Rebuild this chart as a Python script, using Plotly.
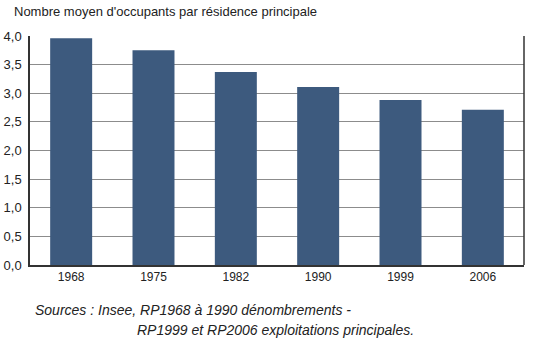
import plotly.graph_objects as go

years = ["1968", "1975", "1982", "1990", "1999", "2006"]
occupants = [3.96, 3.75, 3.37, 3.11, 2.88, 2.71]
y_ticks = [0, 0.5, 1.0, 1.5, 2.0, 2.5, 3.0, 3.5, 4.0]
y_tick_labels = ["0,0", "0,5", "1,0", "1,5", "2,0", "2,5", "3,0", "3,5", "4,0"]

title_text = "Nombre moyen d'occupants par résidence principale"
source_line1 = "Sources : Insee, RP1968 à 1990 dénombrements -"
source_line2 = "RP1999 et RP2006 exploitations principales."

fig = go.Figure()
fig.add_trace(go.Bar(
    x=years, y=occupants,
    marker=dict(color="#3D5A7E", line=dict(width=0)),
    hoverinfo="x+y",
))

fig.update_layout(
    width=537, height=353,
    margin=dict(l=30, r=13, t=36, b=88),
    paper_bgcolor="white", plot_bgcolor="white",
    bargap=0.49,
    showlegend=False,
    font=dict(family="Arial, Liberation Sans, sans-serif", size=11, color="#222222"),
    xaxis=dict(
        type="category",
        showline=True, linecolor="#333333", linewidth=1.5,
        mirror=False, ticks="", showgrid=False,
        tickfont=dict(size=12, color="#222222"),
        automargin=False,
    ),
    yaxis=dict(
        range=[0, 4.0],
        tickvals=y_ticks, ticktext=y_tick_labels,
        showline=True, linecolor="#333333", linewidth=1.5,
        showgrid=True, gridcolor="#8c8c8c", gridwidth=1,
        ticks="", ticklabelstandoff=4,
        tickfont=dict(size=13, color="#222222"),
        zeroline=False,
        automargin=False,
    ),
    shapes=[
        dict(type="line", xref="paper", yref="paper", x0=1, x1=1, y0=0, y1=1,
             line=dict(color="#333333", width=1.5)),
    ],
    annotations=[
        dict(text=title_text, xref="paper", yref="paper", x=-0.037, y=1.0, yshift=15,
             xanchor="left", yanchor="bottom", showarrow=False,
             font=dict(size=13, color="#222222")),
        dict(text=source_line1, xref="paper", yref="paper", x=0.006, y=0, yshift=-35,
             xanchor="left", yanchor="top", showarrow=False,
             font=dict(size=14, color="#222222", style="italic")),
        dict(text=source_line2, xref="paper", yref="paper", x=0.213, y=0, yshift=-55,
             xanchor="left", yanchor="top", showarrow=False,
             font=dict(size=14, color="#222222", style="italic")),
    ],
)

fig.write_html("out.html")
